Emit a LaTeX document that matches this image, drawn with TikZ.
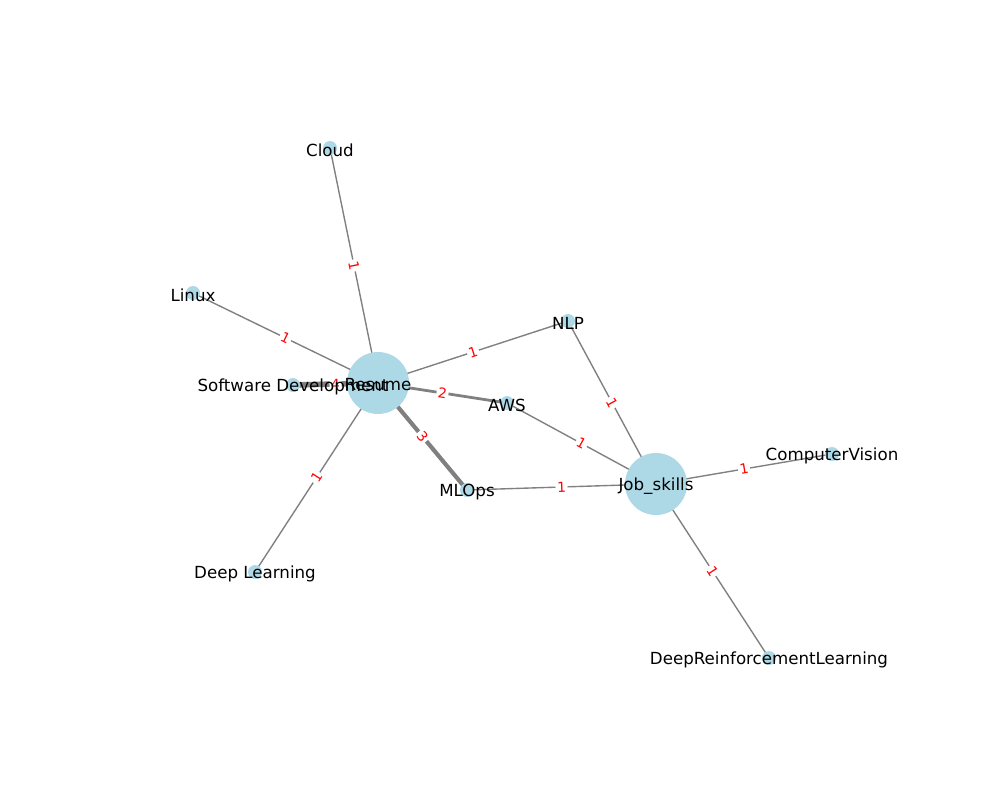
\documentclass[tikz,border=0pt]{standalone}
\usepackage{fontspec}
\setmainfont{DejaVu Sans}
\definecolor{nodeblue}{HTML}{ADD8E6}
\definecolor{edgegray}{HTML}{808080}
\tikzset{
  bignode/.style={circle, fill=nodeblue, minimum size=46.5pt, inner sep=0pt},
  smallnode/.style={circle, fill=nodeblue, minimum size=10.5pt, inner sep=0pt},
  nlabel/.style={font=\fontsize{12.5}{14}\selectfont, inner sep=0pt, text=black, yshift=-1.5pt},
  wone/.style={draw=edgegray, line width=1.04pt},
  wtwo/.style={draw=edgegray, line width=2.08pt},
  wthree/.style={draw=edgegray, line width=3.12pt},
  wfour/.style={draw=edgegray, line width=4.16pt},
  elabel/.style={font=\fontsize{10.4}{12}\selectfont, text=red, fill=white, rounded corners=2pt, inner sep=1.2pt, sloped, midway}
}
\begin{document}
\begin{tikzpicture}[x=0.75pt,y=-0.75pt]
\useasboundingbox (0,0) rectangle (1000,800);
% node positions
\coordinate (resume) at (378,383);
\coordinate (job) at (656,484);
\coordinate (cloud) at (330,148);
\coordinate (linux) at (193,293);
\coordinate (sd) at (293,385);
\coordinate (dl) at (255,572);
\coordinate (nlp) at (568,321);
\coordinate (aws) at (507,403);
\coordinate (mlops) at (467,490);
\coordinate (cv) at (832,454);
\coordinate (drl) at (769,658);
% edges
\draw[wone] (resume) -- node[elabel] {1} (cloud);
\draw[wone] (resume) -- node[elabel] {1} (linux);
\draw[wfour] (resume) -- node[elabel] {4} (sd);
\draw[wone] (resume) -- node[elabel] {1} (dl);
\draw[wone] (resume) -- node[elabel] {1} (nlp);
\draw[wtwo] (resume) -- node[elabel] {2} (aws);
\draw[wthree] (resume) -- node[elabel] {3} (mlops);
\draw[wone] (job) -- node[elabel] {1} (nlp);
\draw[wone] (job) -- node[elabel] {1} (aws);
\draw[wone] (job) -- node[elabel] {1} (mlops);
\draw[wone] (job) -- node[elabel] {1} (cv);
\draw[wone] (job) -- node[elabel] {1} (drl);
% nodes
\node[bignode] (resumec) at (resume) {};
\node[bignode] (jobc) at (job) {};
\node[smallnode] (cloudc) at (cloud) {};
\node[smallnode] (linuxc) at (linux) {};
\node[smallnode] (sdc) at (sd) {};
\node[smallnode] (dlc) at (dl) {};
\node[smallnode] (nlpc) at (nlp) {};
\node[smallnode] (awsc) at (aws) {};
\node[smallnode] (mlopsc) at (mlops) {};
\node[smallnode] (cvc) at (cv) {};
\node[smallnode] (drlc) at (drl) {};
% labels
\node[nlabel] (resumet) at (resume) {Resume};
\node[nlabel] (jobt) at (job) {Job\_skills};
\node[nlabel] (cloudt) at (cloud) {Cloud};
\node[nlabel] (linuxt) at (linux) {Linux};
\node[nlabel] (sdt) at (sd) {Software Development};
\node[nlabel] (dlt) at (dl) {Deep Learning};
\node[nlabel] (nlpt) at (nlp) {NLP};
\node[nlabel] (awst) at (aws) {AWS};
\node[nlabel] (mlopst) at (mlops) {MLOps};
\node[nlabel] (cvt) at (cv) {ComputerVision};
\node[nlabel] (drlt) at (drl) {DeepReinforcementLearning};
\end{tikzpicture}
\end{document}
